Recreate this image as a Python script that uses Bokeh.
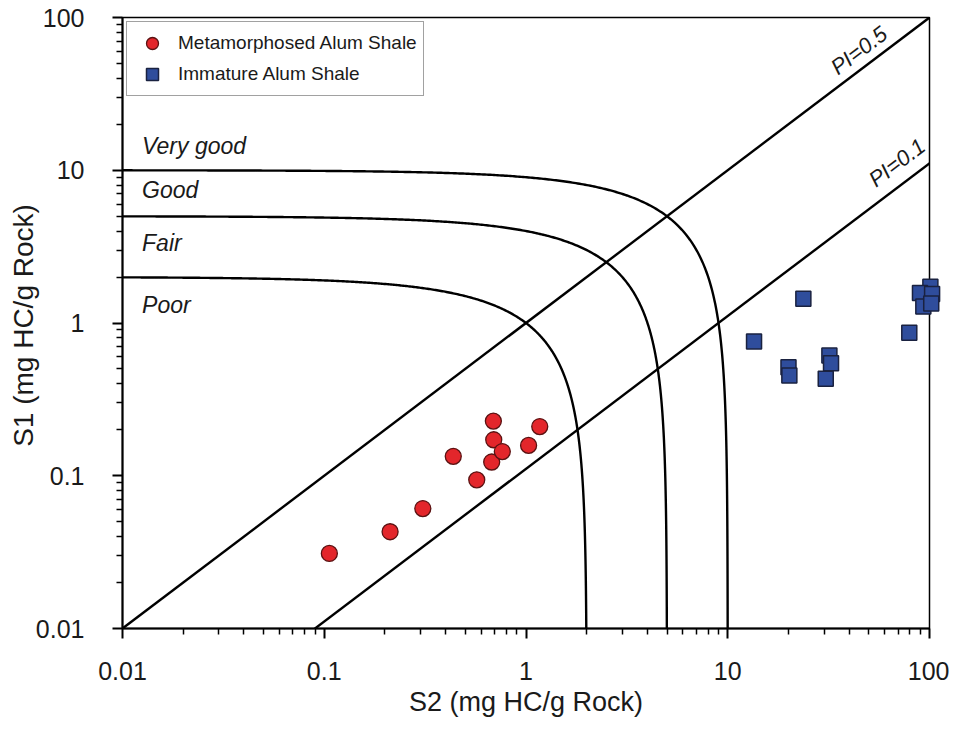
import math
import numpy as np
from bokeh.plotting import figure
from bokeh.models import FixedTicker, CustomJSTickFormatter, Legend, LegendItem
from bokeh.core.properties import value
from bokeh.embed import file_html
from bokeh.resources import INLINE

# ---------------- data ----------------
meta_s2 = [0.106, 0.212, 0.308, 0.436, 0.570, 0.676, 0.692, 0.689, 0.763, 1.03, 1.17]
meta_s1 = [0.031, 0.043, 0.061, 0.134, 0.094, 0.123, 0.172, 0.228, 0.144, 0.158, 0.210]

imm_s2 = [13.5, 20.0, 20.2, 23.7, 31.9, 32.5, 30.6, 79.4, 101.0, 89.7, 103.0, 93.2, 102.0]
imm_s1 = [0.757, 0.514, 0.453, 1.44, 0.612, 0.546, 0.432, 0.863, 1.73, 1.57, 1.55, 1.28, 1.34]

# S1 + S2 boundaries between quality classes
quality_limits = [2, 5, 10]
quality_labels = ["Very good", "Good", "Fair", "Poor"]
quality_label_y = [14.5, 7.48, 3.32, 1.32]

# production index lines PI = S1/(S1+S2)
pi_values = [0.5, 0.1]
pi_labels = ["PI=0.5", "PI=0.1"]
pi_label_s2 = [44.7, 69.0]
pi_label_s1 = [60.8, 11.2]

major_ticks = [0.01, 0.1, 1, 10, 100]
tick_labels = ["0.01", "0.1", "1", "10", "100"]

FONT = "Liberation Sans"
FW, FH = 807, 611
X0, X1, Y0, Y1 = 0.01, 100.0, 0.01, 100.0

p = figure(x_axis_type="log", y_axis_type="log",
           x_range=(X0, X1), y_range=(Y0, Y1),
           frame_width=FW, frame_height=FH,
           min_border_left=122, min_border_right=20,
           min_border_top=17, min_border_bottom=100,
           output_backend="svg", toolbar_location=None,
           background_fill_color="white", border_fill_color="white")
p.grid.visible = False
p.outline_line_color = "black"
p.outline_line_width = 1.5

minor = [k * 10.0 ** e for e in range(-2, 2) for k in range(2, 10)]
fmt_code = "const L = %s; const T = %s; for (let i=0;i<T.length;i++){ if (Math.abs(Math.log10(tick)-Math.log10(T[i]))<1e-6) return L[i]; } return '';" % (
    str(tick_labels), str(major_ticks))
for ax in [p.xaxis[0], p.yaxis[0]]:
    ax.ticker = FixedTicker(ticks=major_ticks, minor_ticks=minor)
    ax.formatter = CustomJSTickFormatter(code=fmt_code)
    ax.axis_line_width = 2
    ax.axis_line_color = "black"
    ax.major_tick_in = 0
    ax.major_tick_out = 10
    ax.minor_tick_in = 0
    ax.minor_tick_out = 6
    ax.major_tick_line_width = 2
    ax.minor_tick_line_width = 1.5
    ax.major_tick_line_color = "black"
    ax.minor_tick_line_color = "black"
    ax.major_label_text_font = FONT
    ax.major_label_text_font_size = "25px"
    ax.major_label_text_color = "#1a1a1a"
    ax.axis_label_text_font = FONT
    ax.axis_label_text_font_size = "27px"
    ax.axis_label_text_font_style = "normal"
    ax.axis_label_text_color = "#1a1a1a"

p.xaxis.axis_label = "S2 (mg HC/g Rock)"
p.xaxis.axis_label_standoff = 4
p.xaxis.major_label_standoff = 23
p.yaxis.major_label_standoff = 28

# y axis title: text placed left of the frame, vertically centred near the middle
dec_x = FW / math.log10(X1 / X0)
dec_y = FH / math.log10(Y1 / Y0)
ytitle_x = X0 * 10 ** (-99 / dec_x)
ytitle_y = Y0 * 10 ** (303 / dec_y)
p.text(x=[ytitle_x], y=[ytitle_y], text=["S1 (mg HC/g Rock)"], angle=math.pi / 2,
       text_align="center", text_baseline="middle",
       text_font=value(FONT), text_font_size="28px", text_color="#1a1a1a",
       level="overlay")

# quality boundary curves S1 + S2 = c
for c in quality_limits:
    x1 = np.logspace(-2, math.log10(c / 2), 300)
    y1 = c - x1
    y2 = np.logspace(math.log10(c / 2), -2.2, 300)
    x2 = c - y2
    p.line(np.concatenate([x1, x2]), np.concatenate([y1, y2]),
           line_color="black", line_width=2.4)

# PI lines
for pi in pi_values:
    xs = np.array([0.001, 1000.0])
    p.line(xs, xs * pi / (1 - pi), line_color="black", line_width=2.4)

# text labels
p.text(x=[0.0125] * 4, y=quality_label_y, text=quality_labels,
       text_font=value(FONT), text_font_style="italic", text_font_size="23px",
       text_baseline="alphabetic", text_align="left", text_color="#1a1a1a")

ang = math.atan2(dec_y, dec_x)
p.text(x=pi_label_s2, y=pi_label_s1, text=pi_labels, angle=ang,
       text_font=value(FONT), text_font_style="italic", text_font_size="22px",
       text_baseline="alphabetic", text_align="center", text_color="#1a1a1a")

# data points
r_imm = p.scatter(imm_s2, imm_s1, marker="square", size=15,
                  fill_color="#2f4d9c", line_color="#1a2240", line_width=1.5,
                  level="overlay")
r_meta = p.scatter(meta_s2, meta_s1, marker="circle", size=16,
                   fill_color="#e3262b", line_color="#5a1212", line_width=1.3,
                   level="overlay")

legend = Legend(items=[LegendItem(label="Metamorphosed Alum Shale", renderers=[r_meta]),
                       LegendItem(label="Immature Alum Shale", renderers=[r_imm])],
                location="top_left", margin=4, padding=6, spacing=1,
                glyph_width=38, glyph_height=30, label_height=30,
                label_standoff=7,
                label_text_font=FONT, label_text_font_size="19px",
                label_text_color="#1a1a1a",
                border_line_color="#444444", border_line_width=1.5,
                background_fill_color="white", background_fill_alpha=1.0)
p.add_layout(legend, "center")

open("out.html", "w").write(file_html(p, INLINE))
